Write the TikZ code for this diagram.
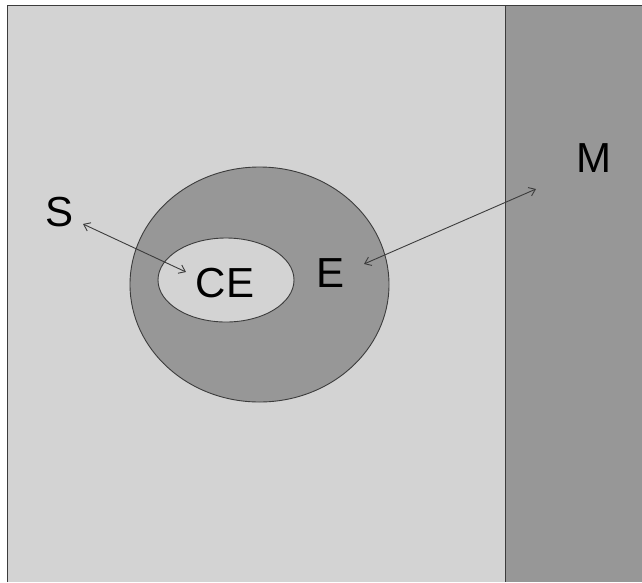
\documentclass[tikz,border=0pt]{standalone}
\usepackage{fontspec}
\setmainfont{Liberation Sans}
\usetikzlibrary{arrows.meta,shapes.geometric}
\definecolor{lightbg}{HTML}{D3D3D3}
\definecolor{darkbg}{HTML}{979797}
\definecolor{edgec}{HTML}{3C3C3C}
\tikzset{
  lbl/.style={font=\fontsize{42}{44}\selectfont, text=black, inner sep=0pt},
  rel/.style={draw=edgec, line width=0.9pt, {Straight Barb[length=6pt,width=9pt]}-{Straight Barb[length=6pt,width=9pt]}},
  region/.style={draw=edgec, line width=0.9pt}
}
\begin{document}
\begin{tikzpicture}[x=1pt,y=-1pt]
\useasboundingbox (0,0) rectangle (642,582);
\fill[white] (0,0) rectangle (642,582);
\fill[lightbg] (7,5) rectangle (505,582);
\fill[darkbg] (505,5) rectangle (642,582);
\draw[region] (7,582) -- (7,5) -- (642,5);
\draw[region] (505,5) -- (505,582);
\node[ellipse, region, fill=darkbg, minimum width=259pt, minimum height=235pt, inner sep=0pt] (Eell) at (259.5,284.5) {};
\node[ellipse, region, fill=lightbg, minimum width=136pt, minimum height=84pt, inner sep=0pt] (CEell) at (226,280) {};
\node[lbl] (CE) at (225,283) {CE};
\node[lbl] (E) at (331,273) {E};
\node[lbl] (S) at (60,212) {S};
\node[lbl] (M) at (594,158) {M};
\coordinate (sA) at (83,224);
\coordinate (sB) at (186,272);
\coordinate (eA) at (364,264);
\coordinate (eB) at (536,189);
\draw[rel] (sA) -- (sB);
\draw[rel] (eA) -- (eB);
\end{tikzpicture}
\end{document}
